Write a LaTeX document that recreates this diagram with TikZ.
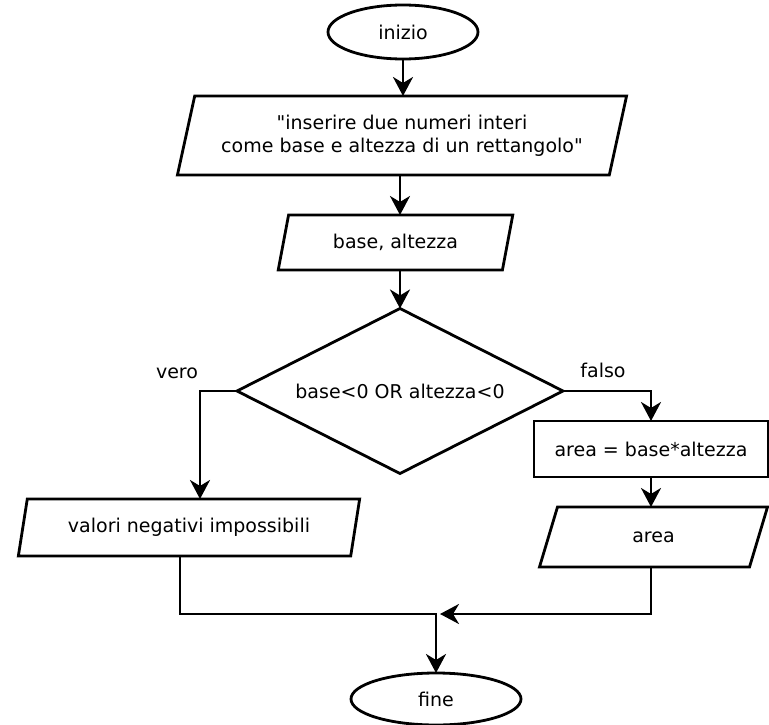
\documentclass[tikz,border=0pt]{standalone}
\usepackage{fontspec}
\setmainfont{DejaVu Sans}[Ligatures=TeXOff]
\usetikzlibrary{shapes.geometric,arrows.meta}
\begin{document}
\begin{tikzpicture}[x=1pt,y=-1pt,
  every node/.style={font=\fontsize{19}{23}\selectfont, inner sep=0pt, outer sep=0pt},
  box/.style={draw, line width=2.8pt, fill=white},
  term/.style={box, ellipse},
  para/.style={box, trapezium, trapezium left angle=70, trapezium right angle=110, trapezium stretches=true},
  proc/.style={box, rectangle},
  dec/.style={box, diamond, aspect=1.976},
  conn/.style={line width=2.8pt},
  arr/.style={conn, -{Stealth[length=19pt,width=20pt,inset=6pt]}}
]
\useasboundingbox (0,0) rectangle (769,725);

\node[term, minimum width=150pt, minimum height=54pt] (start) at (403,32) {inizio};
\node[para, minimum width=450pt, minimum height=79pt, align=center] (in1) at (402,135.5)
  {"inserire due numeri interi\\come base e altezza di un rettangolo"};
\node[para, minimum width=235pt, minimum height=55pt] (in2) at (395.5,242.5) {base, altezza};
\node[dec, minimum width=326pt, minimum height=165pt] (cond) at (400,391) {base<0 OR altezza<0};
\node[proc, minimum width=234pt, minimum height=56pt] (calc) at (651,449) {area = base*altezza};
\node[para, minimum width=229pt, minimum height=60pt] (out) at (653.5,537) {area};
\node[para, minimum width=342pt, minimum height=57pt] (err) at (189,527.5) {valori negativi impossibili};
\node[term, minimum width=170pt, minimum height=52pt] (end) at (436,699) {fine};
\node (vero) at (177,373) {vero};
\node (falso) at (603,370) {falso};
\coordinate (lft) at (200,391);
\coordinate (join) at (436,614);

\draw[arr] (start.south) -- (start.south |- in1.north);
\draw[arr] (in1.south -| cond.north) -- (in2.north -| cond.north);
\draw[arr] (in2.south -| cond.north) -- (cond.north);
\draw[arr] (cond.west) -- (cond.west -| lft) -- (lft |- err.north);
\draw[arr] (cond.east) -| (calc.north);
\draw[arr] (calc.south) -- (calc.south |- out.north);
\draw[arr] ([xshift=-9pt]err.south) |- (join) -- (end.north);
\draw[arr] (calc.south |- out.south) |- ([xshift=4pt]join);
\end{tikzpicture}
\end{document}
